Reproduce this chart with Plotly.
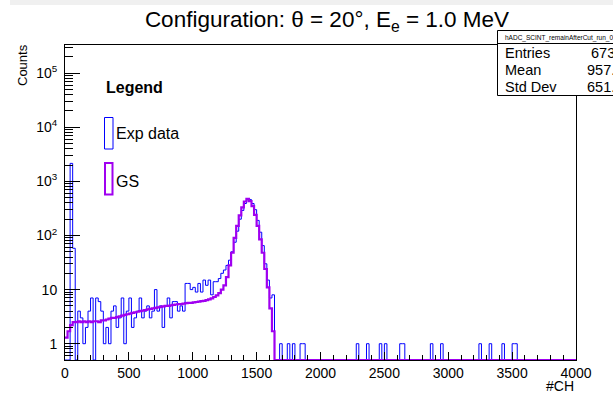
import plotly.graph_objects as go
import math

# ---------------- data ----------------
BIN_WIDTH = 20          # channels per bin
N_BINS = 200            # 0 .. 4000 channels

# Experimental counts, bins 0..81 (channel 0 .. 1640)
exp_main = [0, 0, 2150, 58, 0, 4, 3, 1, 2, 4, 7, 0, 7, 6, 4,
            1, 2, 1, 4, 5, 2, 3, 7, 1, 4, 7, 2, 3, 4, 7,
            3, 4, 5, 3, 4, 10, 4, 5, 2, 5,
            7, 3, 6, 6, 4, 5, 4, 13, 13, 10,
            11, 9, 13, 9, 15, 12, 15, 8, 14, 14,
            16, 20, 23, 28, 35, 50, 75, 120, 200, 290,
            390, 455, 460, 390, 300, 190, 115, 65, 30, 15, 7, 8]
# Isolated single-count bins in the tail (lower channel edge)
exp_tail_channels = [1680, 1740, 1780, 1840, 1860, 2280, 2360, 2460, 2500,
                     2620, 2640, 2860, 2940, 3240, 3320, 3420, 3500, 3520]

# GS simulation, bins 0..81
gs_main = [1.3, 1.7, 2.2, 2.5, 2.5, 2.6, 2.5, 2.6, 2.5, 2.6, 2.5, 2.6, 2.6, 2.5,
           2.7, 2.7, 2.8, 2.9, 3.0, 3.0, 3.1, 3.2, 3.3, 3.4,
           3.5, 3.6, 3.7, 3.8, 3.9, 4.0, 4.1, 4.2, 4.3, 4.4,
           4.5, 4.6, 4.7, 4.8, 4.9, 5.0, 5.0, 5.1, 5.2, 5.3,
           5.4, 5.4, 5.5, 5.6, 5.7, 5.7, 5.8, 5.9, 6.0, 6.1,
           6.2, 6.4, 6.6, 6.9, 7.3, 7.8, 8.6, 10,
           12, 17, 28, 48, 90, 150, 235, 330, 425, 475,
           430, 350, 240, 150, 85, 48, 24, 11, 4.5, 1.7]

x_ticks = [0, 500, 1000, 1500, 2000, 2500, 3000, 3500, 4000]
y_tickvals = [1, 10, 100, 1000, 10000, 100000]
y_ticktext = ["1", "10", "10<sup>2</sup>", "10<sup>3</sup>", "10<sup>4</sup>", "10<sup>5</sup>"]

stats_title = "hADC_SCINT_remainAfterCut_run_0001"
stats_labels = ["Entries", "Mean", "Std Dev"]
stats_values = ["6731", "957.5", "651.3"]

# ---------------- build histograms ----------------
exp_counts = exp_main + [0] * (N_BINS - len(exp_main))
for ch in exp_tail_channels:
    exp_counts[ch // BIN_WIDTH] = 1
gs_counts = gs_main + [0] * (N_BINS - len(gs_main))

Y_LOG_MIN, Y_LOG_MAX = -0.301, 5.52
floor_val = 10 ** Y_LOG_MIN

edges = [i * BIN_WIDTH for i in range(N_BINS + 1)]


def step_y(vals):
    ys = [v if v > 0 else floor_val for v in vals]
    return ys + [ys[-1]]


FONT = "Liberation Sans, Arial, Helvetica, sans-serif"
BLUE = "#0000ff"
PURPLE = "#a000f0"

fig = go.Figure()
fig.add_trace(go.Scatter(x=edges, y=step_y(exp_counts), mode="lines",
                         line=dict(color=BLUE, width=1, shape="hv"),
                         showlegend=False, hoverinfo="skip"))
fig.add_trace(go.Scatter(x=edges, y=step_y(gs_counts), mode="lines",
                         line=dict(color=PURPLE, width=2.2, shape="hv"),
                         showlegend=False, hoverinfo="skip"))

# ---------------- layout ----------------
W, H = 613, 405
L, R, T, B = 65, 576, 45, 360


def px(p):
    return (p - L) / (R - L)


def py(p):
    return (B - p) / (B - T)


minor_vals = [m * 10 ** d for d in range(-1, 6) for m in range(2, 10)]

fig.update_layout(
    width=W, height=H,
    margin=dict(l=L, r=W - R, t=T, b=H - B),
    paper_bgcolor="white", plot_bgcolor="white",
    font=dict(family=FONT, color="black", size=14),
    showlegend=False,
    title=dict(text="Configuration: θ = 20°, E<sub>e</sub> = 1.0 MeV",
               x=327 / W, xanchor="center", xref="container",
               y=1 - 19 / H, yanchor="middle", yref="container",
               font=dict(family=FONT, size=22.5, color="black")),
    xaxis=dict(range=[0, 4000], tickmode="array", tickvals=x_ticks,
               ticks="inside", ticklen=8, tickcolor="black",
               showgrid=False, zeroline=False,
               showline=True, linecolor="black", linewidth=1, mirror=True,
               tickfont=dict(family=FONT, size=14),
               minor=dict(ticks="inside", ticklen=5, dtick=100,
                          tickcolor="black", showgrid=False)),
    yaxis=dict(type="log", range=[Y_LOG_MIN, Y_LOG_MAX],
               tickmode="array", tickvals=y_tickvals, ticktext=y_ticktext,
               ticks="inside", ticklen=15, tickcolor="black",
               showgrid=False, zeroline=False,
               showline=True, linecolor="black", linewidth=1, mirror=True,
               tickfont=dict(family=FONT, size=14),
               ticklabelstandoff=4,
               minor=dict(ticks="inside", ticklen=8, tickmode="array",
                          tickvals=minor_vals, tickcolor="black",
                          showgrid=False)),
)

shapes = []
annotations = []

# light band at the very top of the page
shapes.append(dict(type="rect", xref="paper", yref="paper",
                   x0=px(10), x1=px(640), y0=py(0), y1=py(5),
                   fillcolor="#f0f0f0", line=dict(width=0), layer="above"))

# axis titles
annotations.append(dict(text="Counts", xref="paper", yref="paper",
                        x=px(22), y=py(42), xanchor="center", yanchor="top",
                        textangle=-90, showarrow=False,
                        font=dict(family=FONT, size=13)))
annotations.append(dict(text="#CH", xref="paper", yref="paper",
                        x=px(576), y=py(376), xanchor="right", yanchor="top",
                        showarrow=False, font=dict(family=FONT, size=14)))

# legend (drawn like ROOT's TLegend)
annotations.append(dict(text="<b>Legend</b>", xref="paper", yref="paper",
                        x=px(104), y=py(87), xanchor="left", yanchor="middle",
                        showarrow=False, font=dict(family=FONT, size=16)))
shapes.append(dict(type="rect", xref="paper", yref="paper",
                   x0=px(104.5), x1=px(113), y0=py(149), y1=py(117.5),
                   line=dict(color=BLUE, width=1), fillcolor="rgba(0,0,0,0)"))
annotations.append(dict(text="Exp data", xref="paper", yref="paper",
                        x=px(114), y=py(133), xanchor="left", yanchor="middle",
                        showarrow=False, font=dict(family=FONT, size=16)))
shapes.append(dict(type="rect", xref="paper", yref="paper",
                   x0=px(105), x1=px(112.5), y0=py(194.5), y1=py(163),
                   line=dict(color=PURPLE, width=2), fillcolor="rgba(0,0,0,0)"))
annotations.append(dict(text="GS", xref="paper", yref="paper",
                        x=px(114), y=py(181), xanchor="left", yanchor="middle",
                        showarrow=False, font=dict(family=FONT, size=16)))

# stats box (cut by the right edge of the page)
shapes.append(dict(type="rect", xref="paper", yref="paper",
                   x0=px(497.5), x1=px(660), y0=py(95.5), y1=py(30.5),
                   fillcolor="white", line=dict(color="black", width=1),
                   layer="above"))
shapes.append(dict(type="line", xref="paper", yref="paper",
                   x0=px(497.5), x1=px(660), y0=py(43.5), y1=py(43.5),
                   line=dict(color="black", width=1), layer="above"))
annotations.append(dict(text=stats_title, xref="paper", yref="paper",
                        x=px(503), y=py(37.5), xanchor="left", yanchor="middle",
                        showarrow=False, font=dict(family=FONT, size=6.5)))
for k, (lab, val) in enumerate(zip(stats_labels, stats_values)):
    yc = 53 + 17 * k
    annotations.append(dict(text=lab, xref="paper", yref="paper",
                            x=px(503), y=py(yc), xanchor="left", yanchor="middle",
                            showarrow=False, font=dict(family=FONT, size=14.5)))
    annotations.append(dict(text=val, xref="paper", yref="paper",
                            x=px(625), y=py(yc), xanchor="right", yanchor="middle",
                            showarrow=False, font=dict(family=FONT, size=14.5)))

fig.update_layout(shapes=shapes, annotations=annotations)
fig.write_html("out.html")
